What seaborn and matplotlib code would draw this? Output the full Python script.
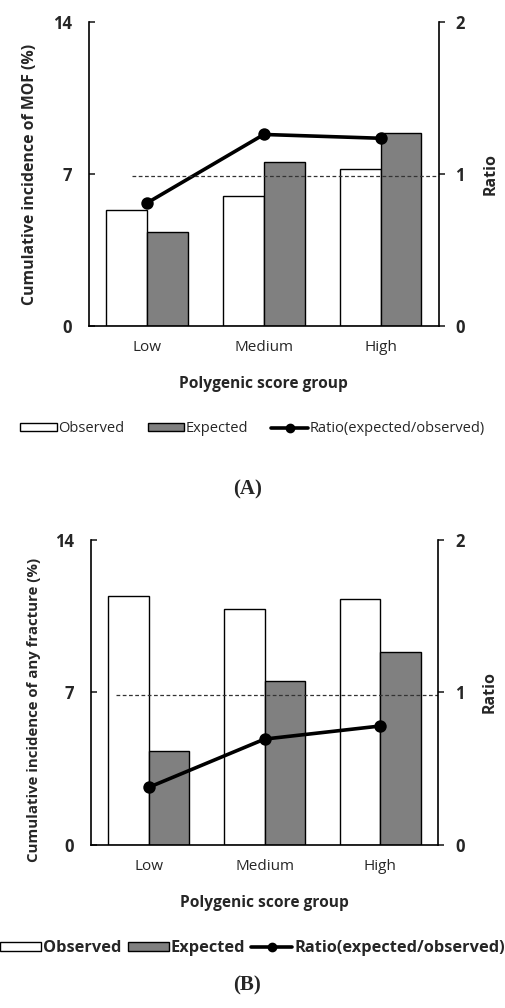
import pandas as pd
import matplotlib
matplotlib.use("Agg")
import matplotlib.pyplot as plt
from matplotlib.patches import Patch
from matplotlib.lines import Line2D
import seaborn as sns

# data
groups = ["Low", "Medium", "High"]
series = ["Observed", "Expected"]

mof_observed = [5.33, 5.97, 7.22]
mof_expected = [4.33, 7.54, 8.88]
mof_ratio = [0.81, 1.26, 1.235]

any_observed = [11.42, 10.82, 11.29]
any_expected = [4.32, 7.51, 8.86]
any_ratio = [0.377, 0.694, 0.78]

left_ticks = [0, 7, 14]
right_ticks = [0, 1, 2]
ref_level = 0.985

sns.set_style("white")
plt.rcParams["font.family"] = ["Open Sans", "DejaVu Sans"]

fig = plt.figure(figsize=(5.05, 10.08), dpi=100)


def panel(rect, observed, expected, ratio, ylab, ylab_size, ylab_y, ref_start,
          legend_bold, legend_y, tag, tag_y):
    ax = fig.add_axes(rect)
    df = pd.DataFrame({
        "group": groups * 2,
        "series": ["Observed"] * 3 + ["Expected"] * 3,
        "value": observed + expected,
    })
    sns.barplot(data=df, x="group", y="value", hue="series", hue_order=series,
                palette={"Observed": "white", "Expected": "#808080"},
                edgecolor="black", linewidth=1.0, width=0.7, ax=ax, legend=False)
    ax.set_ylim(0, 14)
    ax.set_yticks(left_ticks)
    ax.set_yticklabels([str(t) for t in left_ticks], fontweight="bold", fontsize=12)
    ax.tick_params(axis="y", direction="in", length=4, width=1.2, pad=12, left=True)
    ax.tick_params(axis="x", length=0, pad=10, labelsize=11)
    ax.set_xlabel("Polygenic score group", fontweight="bold", fontsize=11.2)
    ax.xaxis.set_label_coords(0.5, -0.165)
    ax.set_ylabel(ylab, fontweight="bold", fontsize=ylab_size)
    ax.yaxis.set_label_coords(-0.145, ylab_y)
    for s in ["top", "right"]:
        ax.spines[s].set_visible(False)
    for s in ["left", "bottom"]:
        ax.spines[s].set_linewidth(1.2)
        ax.spines[s].set_color("black")

    ax2 = ax.twinx()
    sns.pointplot(x=groups, y=ratio, color="black", markers="o", linestyles="-",
                  markersize=7, linewidth=2.6, errorbar=None, ax=ax2)
    ax2.hlines(ref_level, ref_start, 2.5, colors="#333333", linestyles=(0, (3, 2)), linewidth=0.9)
    ax2.set_ylim(0, 2)
    ax2.set_xlim(-0.5, 2.5)
    ax.set_xlim(-0.5, 2.5)
    ax2.set_yticks(right_ticks)
    ax2.set_yticklabels([str(t) for t in right_ticks], fontweight="bold", fontsize=12)
    ax2.tick_params(axis="y", direction="out", length=4, width=1.2, pad=8, right=True)
    ax2.set_ylabel("Ratio", fontweight="bold", fontsize=11.5)
    ax2.yaxis.set_label_coords(1.125, 0.5)
    for s in ["top", "left", "bottom"]:
        ax2.spines[s].set_visible(False)
    ax2.spines["right"].set_linewidth(1.2)
    ax2.spines["right"].set_color("black")

    handles = [
        Patch(facecolor="white", edgecolor="black", linewidth=1.0),
        Patch(facecolor="#808080", edgecolor="black", linewidth=1.0),
        Line2D([], [], color="black", marker="o", markersize=6, linewidth=2.6),
    ]
    labels = ["Observed", "Expected", "Ratio(expected/observed)"]
    fig.legend(handles, labels, loc="center", bbox_to_anchor=(0.5, legend_y), ncol=3,
               frameon=False, handlelength=2.5, handleheight=0.5, handletextpad=0.1,
               columnspacing=1.6 if not legend_bold else 0.4,
               prop={"weight": "bold" if legend_bold else "normal",
                     "size": 10.5 if not legend_bold else 11.8})
    fig.text(0.49, tag_y, tag, ha="center", va="center", fontsize=15,
             fontweight="bold", family="Liberation Serif")


panel([0.176, 0.6766, 0.693, 0.3016], mof_observed, mof_expected, mof_ratio,
      "Cumulative incidence of MOF (%)", 11.4, 0.5, -0.13, False,
      1 - 429 / 1008, "(A)", 1 - 489 / 1008)
panel([0.180, 0.162, 0.688, 0.302], any_observed, any_expected, any_ratio,
      "Cumulative incidence of any fracture (%)", 10.8, 0.442, -0.28, True,
      1 - 948 / 1008, "(B)", 1 - 985 / 1008)

fig.savefig("out.png", dpi=100)
